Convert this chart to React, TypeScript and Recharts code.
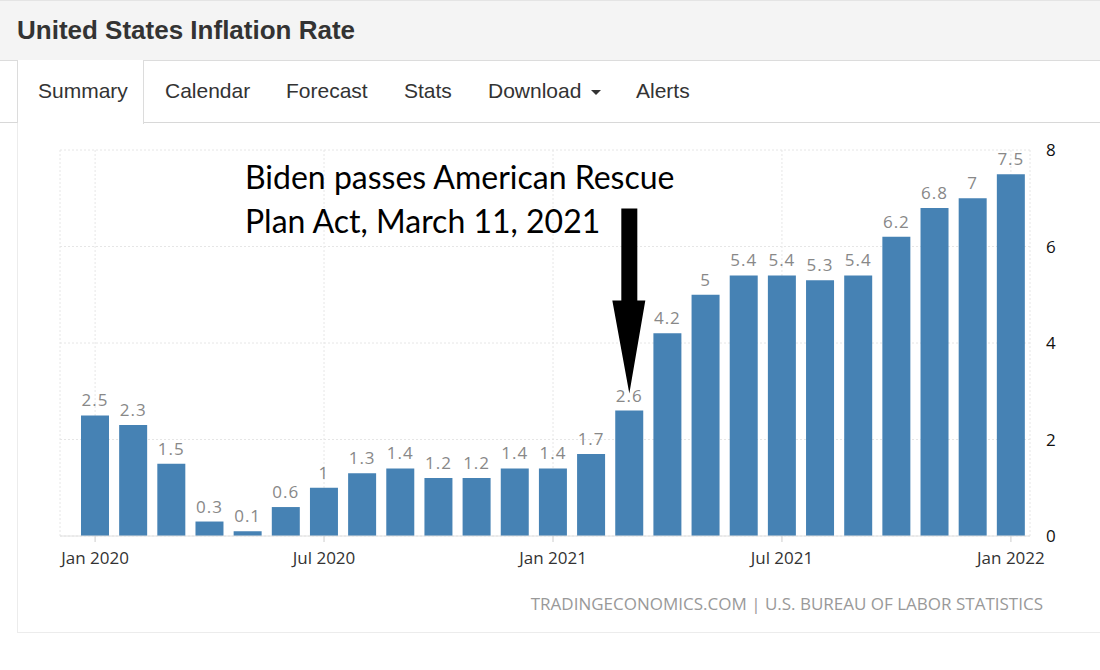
import {
  BarChart,
  Bar,
  XAxis,
  YAxis,
  CartesianGrid,
  LabelList,
  ReferenceDot,
} from "recharts";

// CPI, year-over-year % change, monthly
const months = [
  "Jan 2020", "Feb 2020", "Mar 2020", "Apr 2020", "May 2020", "Jun 2020",
  "Jul 2020", "Aug 2020", "Sep 2020", "Oct 2020", "Nov 2020", "Dec 2020",
  "Jan 2021", "Feb 2021", "Mar 2021", "Apr 2021", "May 2021", "Jun 2021",
  "Jul 2021", "Aug 2021", "Sep 2021", "Oct 2021", "Nov 2021", "Dec 2021",
  "Jan 2022",
];
const inflation = [
  2.5, 2.3, 1.5, 0.3, 0.1, 0.6, 1, 1.3, 1.4, 1.2, 1.2, 1.4,
  1.4, 1.7, 2.6, 4.2, 5, 5.4, 5.4, 5.3, 5.4, 6.2, 6.8, 7, 7.5,
];
const xTicks = ["Jan 2020", "Jul 2020", "Jan 2021", "Jul 2021", "Jan 2022"];
const yTicks = [0, 2, 4, 6, 8];
const tabs = ["Summary", "Calendar", "Forecast", "Stats", "Download", "Alerts"];
const tabLeft = [38, 165, 286, 404, 488, 636];

const arpMonth = "Mar 2021";
const arpValue = 2.6;

const data = months.map((m, i) => ({ month: m, rate: inflation[i] }));

const chartFont = "'Open Sans', 'DejaVu Sans', sans-serif";

// big black down arrow, tip sits just over the bar label
const DownArrow = (props: any) => {
  const { cx, cy } = props;
  if (cx == null || cy == null) return null;
  const tip = cy - 17;
  const headTop = cy - 110;
  const shaftTop = cy - 202;
  const d = `M ${cx - 8} ${shaftTop} L ${cx + 8} ${shaftTop} L ${cx + 8} ${headTop}
    L ${cx + 16} ${headTop} L ${cx} ${tip} L ${cx - 17} ${headTop} L ${cx - 8} ${headTop} Z`;
  return <path d={d} fill="#000" />;
};

export default function App() {
  return (
    <div
      style={{
        position: "absolute",
        left: 0,
        top: 0,
        width: 1100,
        height: 670,
        overflow: "hidden",
        background: "#fff",
        fontFamily: "'Liberation Sans', Arial, sans-serif",
      }}
    >
      {/* page header */}
      <div
        style={{
          position: "absolute",
          left: 0,
          top: 0,
          width: 1100,
          height: 61,
          background: "#f4f4f4",
          borderTop: "1px solid #e4e4e4",
          borderBottom: "1px solid #dcdcdc",
          boxSizing: "border-box",
        }}
      />
      <div
        style={{
          position: "absolute",
          left: 17,
          top: 15,
          fontSize: 26,
          fontWeight: "bold",
          color: "#333",
          lineHeight: "30px",
        }}
      >
        United States Inflation Rate
      </div>

      {/* tabs */}
      <div
        style={{
          position: "absolute",
          left: 0,
          top: 122,
          width: 1100,
          borderTop: "1px solid #d8d8d8",
        }}
      />
      <div
        style={{
          position: "absolute",
          left: 17,
          top: 60,
          width: 127,
          height: 64,
          background: "#fff",
          borderLeft: "1px solid #dcdcdc",
          borderRight: "1px solid #dcdcdc",
          boxSizing: "border-box",
        }}
      />
      {tabs.map((t, i) => (
        <div
          key={t}
          style={{
            position: "absolute",
            left: tabLeft[i],
            top: 78,
            fontSize: 21,
            color: "#333",
            lineHeight: "26px",
            whiteSpace: "nowrap",
          }}
        >
          {t}
          {t === "Download" && (
            <span
              style={{
                display: "inline-block",
                marginLeft: 10,
                verticalAlign: "middle",
                width: 0,
                height: 0,
                borderLeft: "5px solid transparent",
                borderRight: "5px solid transparent",
                borderTop: "5px solid #333",
              }}
            />
          )}
        </div>
      ))}

      {/* chart panel */}
      <div
        style={{
          position: "absolute",
          left: 17,
          top: 123,
          width: 1100,
          height: 509,
          borderLeft: "1px solid #ececec",
          borderBottom: "1px solid #ececec",
        }}
      />

      <div style={{ position: "absolute", left: 0, top: 130 }}>
        <BarChart
          width={1100}
          height={470}
          data={data}
          margin={{ top: 20, right: 30, bottom: 34, left: 60 }}
        >
          <CartesianGrid stroke="#e6e6e6" strokeDasharray="2 2" />
          <XAxis
            dataKey="month"
            ticks={xTicks}
            interval={0}
            height={30}
            padding={{ left: 16, right: 0 }}
            axisLine={{ stroke: "#e0e0e0" }}
            tickLine={{ stroke: "#cccccc" }}
            tickSize={6}
            tickMargin={10}
            tick={{ fill: "#333", fontSize: 17, fontFamily: chartFont }}
          />
          <YAxis
            orientation="right"
            width={40}
            domain={[0, 8]}
            ticks={yTicks}
            axisLine={false}
            tickLine={false}
            tickMargin={10}
            tick={{ fill: "#111", fontSize: 17, fontFamily: chartFont, textAnchor: "start" }}
          />
          <Bar dataKey="rate" fill="#4682b4" barSize={28} isAnimationActive={false}>
            <LabelList
              dataKey="rate"
              position="top"
              offset={9}
              fill="#888"
              fontSize={17}
              fontFamily={chartFont}
              letterSpacing={1}
            />
          </Bar>
          <ReferenceDot
            x={arpMonth}
            y={arpValue}
            ifOverflow="visible"
            shape={DownArrow}
          />
        </BarChart>
      </div>

      {/* annotation */}
      <div
        style={{
          position: "absolute",
          left: 245,
          top: 155,
          fontFamily: "Lato, 'Open Sans', sans-serif",
          fontSize: 32,
          lineHeight: "44px",
          color: "#000",
        }}
      >
        Biden passes American Rescue
        <br />
        Plan Act, March 11, 2021
      </div>

      <div
        style={{
          position: "absolute",
          left: 0,
          width: 1043,
          top: 592,
          textAlign: "right",
          fontFamily: chartFont,
          fontSize: 17,
          color: "#999",
          lineHeight: "24px",
        }}
      >
        TRADINGECONOMICS.COM | U.S. BUREAU OF LABOR STATISTICS
      </div>
    </div>
  );
}
